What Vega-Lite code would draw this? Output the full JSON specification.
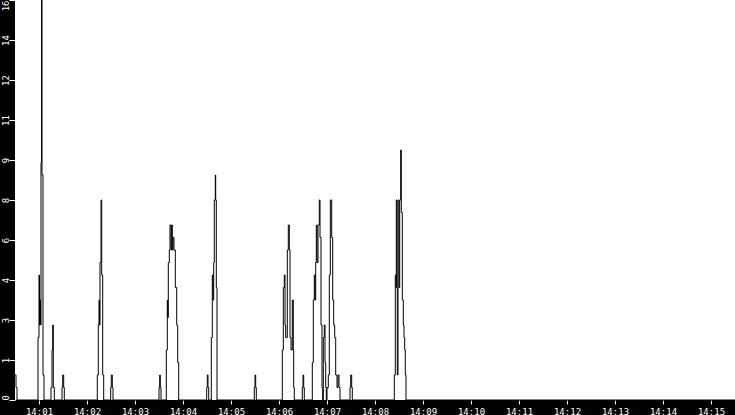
{
  "$schema": "https://vega.github.io/schema/vega-lite/v6.json",
  "width": 720,
  "height": 400,
  "autosize": {"type": "none"},
  "padding": {"left": 15, "top": 0, "right": 0, "bottom": 15},
  "background": "black",
  "config": {"view": {"fill": "white", "stroke": null}},
  "data": {
    "values": [
      {"time": "2024-01-01T14:00:30.000", "value": 1},
      {"time": "2024-01-01T14:00:31.250", "value": 0.5},
      {"time": "2024-01-01T14:00:32.500", "value": 0},
      {"time": "2024-01-01T14:00:58.750", "value": 2.5},
      {"time": "2024-01-01T14:01:00.000", "value": 5},
      {"time": "2024-01-01T14:01:00.625", "value": 3},
      {"time": "2024-01-01T14:01:01.250", "value": 4},
      {"time": "2024-01-01T14:01:01.875", "value": 3},
      {"time": "2024-01-01T14:01:02.500", "value": 9.5},
      {"time": "2024-01-01T14:01:03.125", "value": 16},
      {"time": "2024-01-01T14:01:03.750", "value": 9},
      {"time": "2024-01-01T14:01:05.000", "value": 1},
      {"time": "2024-01-01T14:01:06.250", "value": 0},
      {"time": "2024-01-01T14:01:15.000", "value": 0.5},
      {"time": "2024-01-01T14:01:16.250", "value": 2},
      {"time": "2024-01-01T14:01:17.125", "value": 3},
      {"time": "2024-01-01T14:01:17.875", "value": 0.5},
      {"time": "2024-01-01T14:01:19.125", "value": 0},
      {"time": "2024-01-01T14:01:28.750", "value": 0.5},
      {"time": "2024-01-01T14:01:29.625", "value": 1},
      {"time": "2024-01-01T14:01:30.875", "value": 0.5},
      {"time": "2024-01-01T14:01:31.625", "value": 0},
      {"time": "2024-01-01T14:02:12.875", "value": 1},
      {"time": "2024-01-01T14:02:14.125", "value": 3},
      {"time": "2024-01-01T14:02:15.000", "value": 4},
      {"time": "2024-01-01T14:02:15.625", "value": 3},
      {"time": "2024-01-01T14:02:16.250", "value": 5.5},
      {"time": "2024-01-01T14:02:17.500", "value": 8},
      {"time": "2024-01-01T14:02:18.375", "value": 5},
      {"time": "2024-01-01T14:02:19.625", "value": 1},
      {"time": "2024-01-01T14:02:20.875", "value": 0},
      {"time": "2024-01-01T14:02:29.625", "value": 0.5},
      {"time": "2024-01-01T14:02:30.375", "value": 1},
      {"time": "2024-01-01T14:02:31.625", "value": 0.5},
      {"time": "2024-01-01T14:02:32.500", "value": 0},
      {"time": "2024-01-01T14:03:30.000", "value": 0.5},
      {"time": "2024-01-01T14:03:30.875", "value": 1},
      {"time": "2024-01-01T14:03:31.625", "value": 0.5},
      {"time": "2024-01-01T14:03:32.500", "value": 0},
      {"time": "2024-01-01T14:03:39.125", "value": 2},
      {"time": "2024-01-01T14:03:40.375", "value": 4},
      {"time": "2024-01-01T14:03:40.875", "value": 3.3},
      {"time": "2024-01-01T14:03:41.625", "value": 5.5},
      {"time": "2024-01-01T14:03:42.875", "value": 6},
      {"time": "2024-01-01T14:03:43.750", "value": 7},
      {"time": "2024-01-01T14:03:45.000", "value": 6},
      {"time": "2024-01-01T14:03:45.875", "value": 7},
      {"time": "2024-01-01T14:03:46.625", "value": 6},
      {"time": "2024-01-01T14:03:47.500", "value": 6.5},
      {"time": "2024-01-01T14:03:48.750", "value": 6},
      {"time": "2024-01-01T14:03:50.375", "value": 4.5},
      {"time": "2024-01-01T14:03:52.125", "value": 3},
      {"time": "2024-01-01T14:03:53.375", "value": 1.5},
      {"time": "2024-01-01T14:03:54.625", "value": 0},
      {"time": "2024-01-01T14:04:29.625", "value": 0.5},
      {"time": "2024-01-01T14:04:30.375", "value": 1},
      {"time": "2024-01-01T14:04:31.250", "value": 0.5},
      {"time": "2024-01-01T14:04:32.125", "value": 0},
      {"time": "2024-01-01T14:04:35.375", "value": 2.5},
      {"time": "2024-01-01T14:04:36.625", "value": 5},
      {"time": "2024-01-01T14:04:37.500", "value": 4},
      {"time": "2024-01-01T14:04:38.375", "value": 5.5},
      {"time": "2024-01-01T14:04:39.125", "value": 8},
      {"time": "2024-01-01T14:04:40.375", "value": 9},
      {"time": "2024-01-01T14:04:40.875", "value": 8},
      {"time": "2024-01-01T14:04:41.625", "value": 4.5},
      {"time": "2024-01-01T14:04:42.500", "value": 0},
      {"time": "2024-01-01T14:05:29.125", "value": 0.5},
      {"time": "2024-01-01T14:05:30.000", "value": 1},
      {"time": "2024-01-01T14:05:30.875", "value": 0.5},
      {"time": "2024-01-01T14:05:31.625", "value": 0},
      {"time": "2024-01-01T14:06:04.125", "value": 2},
      {"time": "2024-01-01T14:06:05.375", "value": 4.5},
      {"time": "2024-01-01T14:06:06.625", "value": 5},
      {"time": "2024-01-01T14:06:07.500", "value": 3},
      {"time": "2024-01-01T14:06:08.375", "value": 2.5},
      {"time": "2024-01-01T14:06:10.375", "value": 6},
      {"time": "2024-01-01T14:06:11.625", "value": 7},
      {"time": "2024-01-01T14:06:12.875", "value": 6},
      {"time": "2024-01-01T14:06:13.750", "value": 2.5},
      {"time": "2024-01-01T14:06:15.000", "value": 2},
      {"time": "2024-01-01T14:06:16.625", "value": 4},
      {"time": "2024-01-01T14:06:17.875", "value": 2},
      {"time": "2024-01-01T14:06:18.375", "value": 0.5},
      {"time": "2024-01-01T14:06:19.125", "value": 0},
      {"time": "2024-01-01T14:06:29.125", "value": 0.5},
      {"time": "2024-01-01T14:06:30.000", "value": 1},
      {"time": "2024-01-01T14:06:30.875", "value": 0.5},
      {"time": "2024-01-01T14:06:31.625", "value": 0},
      {"time": "2024-01-01T14:06:41.625", "value": 1.5},
      {"time": "2024-01-01T14:06:42.875", "value": 4},
      {"time": "2024-01-01T14:06:44.125", "value": 5},
      {"time": "2024-01-01T14:06:45.000", "value": 4},
      {"time": "2024-01-01T14:06:45.875", "value": 5.5},
      {"time": "2024-01-01T14:06:46.625", "value": 7},
      {"time": "2024-01-01T14:06:47.500", "value": 5.5},
      {"time": "2024-01-01T14:06:48.750", "value": 7},
      {"time": "2024-01-01T14:06:50.375", "value": 8},
      {"time": "2024-01-01T14:06:51.250", "value": 6.5},
      {"time": "2024-01-01T14:06:52.500", "value": 3},
      {"time": "2024-01-01T14:06:53.750", "value": 0.5},
      {"time": "2024-01-01T14:06:54.625", "value": 0},
      {"time": "2024-01-01T14:06:55.375", "value": 2.5},
      {"time": "2024-01-01T14:06:56.625", "value": 3},
      {"time": "2024-01-01T14:06:57.500", "value": 1.5},
      {"time": "2024-01-01T14:06:58.375", "value": 0.5},
      {"time": "2024-01-01T14:06:59.125", "value": 0},
      {"time": "2024-01-01T14:07:00.000", "value": 0.5},
      {"time": "2024-01-01T14:07:01.625", "value": 1},
      {"time": "2024-01-01T14:07:02.875", "value": 5},
      {"time": "2024-01-01T14:07:04.125", "value": 8},
      {"time": "2024-01-01T14:07:05.875", "value": 6.5},
      {"time": "2024-01-01T14:07:07.125", "value": 4},
      {"time": "2024-01-01T14:07:08.375", "value": 3},
      {"time": "2024-01-01T14:07:09.625", "value": 2.5},
      {"time": "2024-01-01T14:07:10.875", "value": 1},
      {"time": "2024-01-01T14:07:12.500", "value": 0.5},
      {"time": "2024-01-01T14:07:13.750", "value": 1},
      {"time": "2024-01-01T14:07:15.000", "value": 0.5},
      {"time": "2024-01-01T14:07:16.250", "value": 0},
      {"time": "2024-01-01T14:07:28.750", "value": 0.5},
      {"time": "2024-01-01T14:07:29.625", "value": 1},
      {"time": "2024-01-01T14:07:30.875", "value": 0.5},
      {"time": "2024-01-01T14:07:31.625", "value": 0},
      {"time": "2024-01-01T14:08:24.125", "value": 1},
      {"time": "2024-01-01T14:08:25.375", "value": 5},
      {"time": "2024-01-01T14:08:26.250", "value": 4.5},
      {"time": "2024-01-01T14:08:26.625", "value": 8},
      {"time": "2024-01-01T14:08:27.500", "value": 4.5},
      {"time": "2024-01-01T14:08:27.875", "value": 1},
      {"time": "2024-01-01T14:08:28.750", "value": 8},
      {"time": "2024-01-01T14:08:30.000", "value": 4.5},
      {"time": "2024-01-01T14:08:30.875", "value": 8},
      {"time": "2024-01-01T14:08:32.125", "value": 10},
      {"time": "2024-01-01T14:08:32.875", "value": 7.5},
      {"time": "2024-01-01T14:08:34.125", "value": 4},
      {"time": "2024-01-01T14:08:35.375", "value": 3},
      {"time": "2024-01-01T14:08:36.250", "value": 2.5},
      {"time": "2024-01-01T14:08:37.125", "value": 2},
      {"time": "2024-01-01T14:08:37.875", "value": 1},
      {"time": "2024-01-01T14:08:38.750", "value": 0},
      {"time": "2024-01-01T14:15:30.000", "value": 0}
    ]
  },
  "mark": {
    "type": "line",
    "interpolate": "step-after",
    "color": "black",
    "strokeWidth": 1
  },
  "encoding": {
    "x": {
      "field": "time",
      "type": "temporal",
      "scale": {"nice": false},
      "axis": {
        "title": null,
        "domain": false,
        "grid": false,
        "format": "%H:%M",
        "tickCount": 15,
        "tickColor": "white",
        "tickSize": 4,
        "labelColor": "white",
        "labelFont": "DejaVu Sans Mono",
        "labelFontSize": 9,
        "labelBaseline": "top",
        "labelPadding": 3,
        "labelOverlap": false
      }
    },
    "y": {
      "field": "value",
      "type": "quantitative",
      "scale": {"domain": [0, 16], "nice": false},
      "axis": {
        "title": null,
        "domain": false,
        "grid": false,
        "values": [0, 1.6, 3.2, 4.8, 6.4, 8, 9.6, 11.2, 12.8, 14.4, 16],
        "labelExpr": "'' + floor(datum.value)",
        "tickColor": "white",
        "tickSize": 6,
        "labelColor": "white",
        "labelFont": "DejaVu Sans Mono",
        "labelFontSize": 9,
        "labelAngle": 270,
        "labelAlign": {"expr": "datum.value >= 16 ? 'right' : datum.value <= 0 ? 'left' : 'center'"},
        "labelBaseline": "alphabetic",
        "labelPadding": 1,
        "labelOverlap": false
      }
    }
  }
}
